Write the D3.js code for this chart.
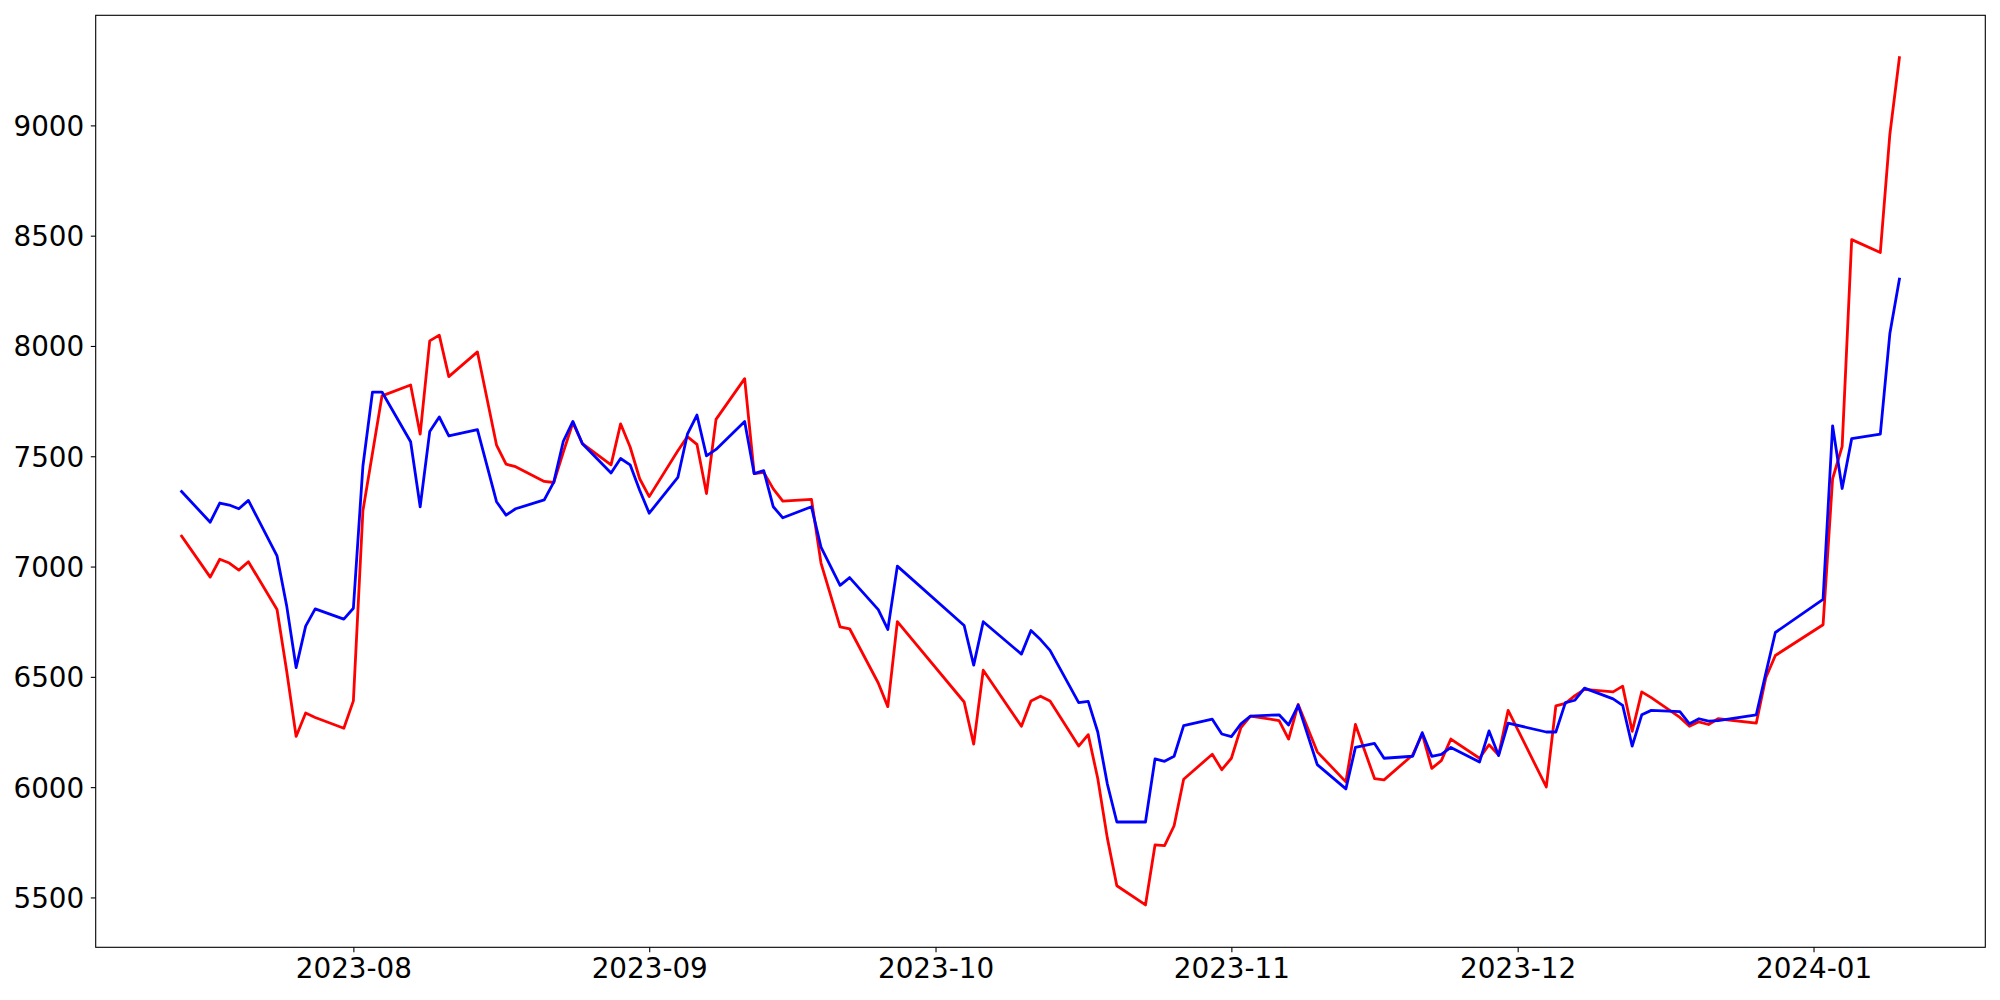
<!DOCTYPE html>
<html lang="en">
<head>
    <meta charset="UTF-8">
    <title>Two series</title>
    <script src="https://cdn.jsdelivr.net/npm/d3@7"></script>
    <style>
        body { margin: 0; background: #fff; }
        .tick-label { font: 27.8px "DejaVu Sans", sans-serif; fill: #000; }
        .line { fill: none; stroke-width: 2.8px; stroke-linejoin: round; stroke-linecap: square; }
    </style>
</head>
<body>
    <script>
        // dates (trading days)
        let dates = [
            '2023-07-14','2023-07-17','2023-07-18','2023-07-19','2023-07-20','2023-07-21',
            '2023-07-24','2023-07-25','2023-07-26','2023-07-27','2023-07-28','2023-07-31',
            '2023-08-01','2023-08-02','2023-08-03','2023-08-04','2023-08-07','2023-08-08',
            '2023-08-09','2023-08-10','2023-08-11','2023-08-14','2023-08-16','2023-08-17',
            '2023-08-18','2023-08-21','2023-08-22','2023-08-23','2023-08-24','2023-08-25',
            '2023-08-28','2023-08-29','2023-08-30','2023-08-31','2023-09-01','2023-09-04',
            '2023-09-05','2023-09-06','2023-09-07','2023-09-08','2023-09-11','2023-09-12',
            '2023-09-13','2023-09-14','2023-09-15','2023-09-18','2023-09-19','2023-09-21',
            '2023-09-22','2023-09-25','2023-09-26','2023-09-27','2023-10-04','2023-10-05',
            '2023-10-06','2023-10-10','2023-10-11','2023-10-12','2023-10-13','2023-10-16',
            '2023-10-17','2023-10-18','2023-10-19','2023-10-20','2023-10-23','2023-10-24',
            '2023-10-25','2023-10-26','2023-10-27','2023-10-30','2023-10-31','2023-11-01',
            '2023-11-02','2023-11-03','2023-11-06','2023-11-07','2023-11-08','2023-11-10',
            '2023-11-13','2023-11-14','2023-11-16','2023-11-17','2023-11-20','2023-11-21',
            '2023-11-22','2023-11-23','2023-11-24','2023-11-27','2023-11-28','2023-11-29',
            '2023-11-30','2023-12-04','2023-12-05','2023-12-06','2023-12-07','2023-12-08',
            '2023-12-11','2023-12-12','2023-12-13','2023-12-14','2023-12-15','2023-12-18',
            '2023-12-19','2023-12-20','2023-12-21','2023-12-22','2023-12-26','2023-12-27',
            '2023-12-28','2024-01-02','2024-01-03','2024-01-04','2024-01-05','2024-01-08',
            '2024-01-09','2024-01-10'
        ];

        let redValues = [
            7138,6952,7033,7016,6984,7022,
            6805,6530,6230,6336,6316,6267,
            6391,7253,7514,7774,7823,7600,
            8023,8049,7861,7973,7551,7464,
            7453,7386,7381,7519,7652,7557,
            7461,7647,7542,7398,7317,7525,
            7589,7554,7331,7667,7852,7421,
            7427,7352,7297,7305,7016,6727,
            6718,6472,6365,6750,6386,6195,
            6530,6276,6391,6412,6391,6186,
            6238,6039,5770,5553,5466,5738,
            5735,5825,6036,6149,6079,6131,
            6270,6322,6302,6218,6375,6160,
            6024,6284,6039,6033,6146,6241,
            6085,6120,6218,6131,6192,6146,
            6348,6001,6368,6380,6415,6443,
            6432,6458,6253,6432,6406,6316,
            6276,6296,6284,6310,6290,6496,
            6597,6736,7398,7545,8482,8424,
            8960,9307
        ];

        let blueValues = [
            7340,7201,7288,7279,7262,7300,
            7048,6825,6542,6730,6808,6762,
            6811,7456,7791,7791,7566,7271,
            7612,7678,7592,7621,7294,7233,
            7262,7302,7383,7568,7658,7557,
            7424,7490,7461,7346,7242,7404,
            7600,7687,7502,7531,7658,7421,
            7435,7271,7221,7271,7088,6915,
            6950,6805,6715,7002,6733,6553,
            6750,6603,6710,6669,6620,6383,
            6389,6250,6015,5842,5842,6128,
            6117,6140,6279,6308,6241,6229,
            6287,6322,6328,6282,6371,6102,
            5992,6180,6198,6131,6140,6247,
            6140,6148,6180,6114,6255,6143,
            6290,6250,6250,6383,6394,6449,
            6400,6371,6186,6328,6348,6342,
            6287,6310,6299,6302,6328,6516,
            6701,6851,7638,7354,7580,7600,
            8057,8303
        ];

        let yTicks = [5500, 6000, 6500, 7000, 7500, 8000, 8500, 9000];

        let width = 2000;
        let height = 1000;
        let margin = {top: 15.3, right: 14.7, bottom: 52.7, left: 95.7};

        let parse = d3.utcParse('%Y-%m-%d');
        let days = dates.map(parse);

        let svg = d3.select('body')
                    .append('svg')
                    .attr('width', width)
                    .attr('height', height);

        // matplotlib style 5% padding
        let xExt = d3.extent(days);
        let xPad = (xExt[1] - xExt[0]) * 0.05;
        let x = d3.scaleUtc()
                    .domain([new Date(+xExt[0] - xPad), new Date(+xExt[1] + xPad)])
                    .range([margin.left, width - margin.right]);

        let all = redValues.concat(blueValues);
        let yMin = d3.min(all), yMax = d3.max(all);
        let yPad = (yMax - yMin) * 0.05;
        let y = d3.scaleLinear()
                    .domain([yMin - yPad, yMax + yPad])
                    .range([height - margin.bottom, margin.top]);

        // lines, red first so blue sits on top
        let line = d3.line()
                    .x(function(d, i){ return x(days[i]); })
                    .y(function(d){ return y(d); });

        svg.append('path')
            .datum(redValues)
            .attr('class', 'line')
            .attr('stroke', '#ff0000')
            .attr('d', line);

        svg.append('path')
            .datum(blueValues)
            .attr('class', 'line')
            .attr('stroke', '#0000ff')
            .attr('d', line);

        // frame
        svg.append('rect')
            .attr('x', margin.left)
            .attr('y', margin.top)
            .attr('width', width - margin.left - margin.right)
            .attr('height', height - margin.top - margin.bottom)
            .attr('fill', 'none')
            .attr('stroke', '#000')
            .attr('stroke-width', 1.1);

        // x axis
        let xAxis = d3.axisBottom(x)
                    .ticks(d3.utcMonth.every(1))
                    .tickFormat(d3.utcFormat('%Y-%m'))
                    .tickSize(4.9)
                    .tickPadding(6);

        let gx = svg.append('g')
                    .attr('transform', 'translate(0,' + (height - margin.bottom) + ')')
                    .call(xAxis);
        gx.select('.domain').remove();
        gx.selectAll('line').attr('stroke', '#000').attr('stroke-width', 1.1);
        gx.selectAll('text')
            .attr('class', 'tick-label')
            .attr('dy', null)
            .attr('y', 31);

        // y axis
        let yAxis = d3.axisLeft(y)
                    .tickValues(yTicks)
                    .tickFormat(d3.format('d'))
                    .tickSize(4.9)
                    .tickPadding(9);

        let gy = svg.append('g')
                    .attr('transform', 'translate(' + margin.left + ',0)')
                    .call(yAxis);
        gy.select('.domain').remove();
        gy.selectAll('line').attr('stroke', '#000').attr('stroke-width', 1.1);
        gy.selectAll('text')
            .attr('class', 'tick-label')
            .attr('dy', '0.36em')
            .attr('x', -11.5);
    </script>
</body>
</html>
